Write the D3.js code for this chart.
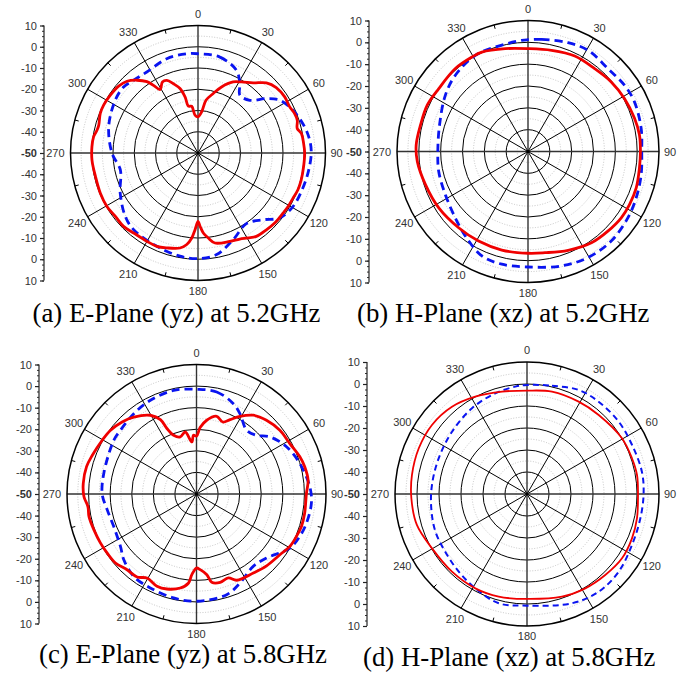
<!DOCTYPE html>
<html><head><meta charset="utf-8">
<script src="https://cdn.jsdelivr.net/npm/d3@7"></script>
<style>body{margin:0;background:#fff}svg{display:block}</style>
</head><body>
<svg id="c" width="686" height="683"></svg>
<script>
// ---------- data (dB vs angle in degrees) ----------
const angleTicks = [0,30,60,90,120,150,180,210,240,270,300,330];
const radialTickValues = [-60,-50,-40,-30,-20,-10,0,10,20,30,40,50,60];
const captions = ["(a) E-Plane (yz) at 5.2GHz","(b) H-Plane (xz) at 5.2GHz","(c) E-Plane (yz) at 5.8GHz","(d) H-Plane (xz) at 5.8GHz"];

const aRedAng = [0,5.1,8.6,14.4,19.6,26.3,31.5,38.2,44.3,50.1,57.1,63.3,67.8,71.7,76.1,79.3,84.8,90,97.3,104.6,110.2,115.4,120.7,125.3,132.4,138.3,145,149.5,154.1,160.2,169.3,173.1,176.2,178.4,180,182.2,184.2,187,190.7,198.2,203.8,210.1,218.8,225.4,232.5,239.6,247.6,257.1,266.2,273.4,278.9,282.8,285.7,292,296.9,303.4,310.1,315.3,320,324.4,326.7,329.2,333.4,336.8,340.5,344.4,347,348.4,352.3,355.5];
const aRedVal = [-33,-30.5,-24.9,-21.1,-17,-12.7,-10.8,-8,-3.9,-2,-1.4,-1.7,-0.9,-0.8,-1.9,-0.5,-0.1,0.2,0.1,0.2,0.1,-0.5,-0.7,-1,-1.1,-1.6,-2.1,-3.6,-5,-5.8,-6.9,-9.7,-12.3,-15.5,-17.8,-13.9,-9.9,-6.6,-4.5,-3,-2,-2,-1.7,-0.8,-1,-0.3,-0.3,-0.5,0,0,-0.3,-1.3,-1.5,-0.4,-0.2,-0.6,-1.2,-2.5,-5.3,-8.7,-11.9,-15.2,-12.6,-12.8,-15.4,-18.5,-22.9,-27.5,-27.8,-32.1];
const aBlueAng = [0,12.9,25,31.1,35.9,44.5,51.5,57.1,65.7,76.2,83.4,90,100.4,110.5,119.4,128.5,135.7,145.6,157.9,169.6,180,189.9,203.8,220,228.9,242.7,257.7,270,286.4,302.6,311.6,318.5,327.7,341.7,353.5];
const aBlueVal = [-3.3,-3.7,-7.1,-11.9,-16.4,-15.2,-8.9,-4.2,-1,1.65,2.9,3.3,2.6,1.9,1.3,-0.9,-6.1,-9.7,-6,-1.4,-0.3,-0.7,-2,-2.9,-4.6,-8.8,-12.6,-9.5,-6.2,-3.8,-3.2,-4.3,-4.9,-3.25,-3];

const bRedAng = [0,13.1,26.1,38.8,50.1,61.2,72.7,81.5,90,98.5,108.6,117.6,125.4,134.9,145.2,157.9,170.5,180,194.9,208.9,222.3,237.7,252.1,264.9,273.4,283.9,294.7,305.2,318.8,329.3,335.1,347.5];
const bRedVal = [-2.9,-2.45,-1.3,-1.3,-0.3,0.4,1.1,1.6,1.5,1.6,2.3,2.45,2.4,1.65,0.9,-1.15,-3,-3.4,-3.3,-3.15,-2.8,-1.65,-0.65,0.9,1.3,0.7,0.8,0,0.5,0.3,0.2,-1.75];
const bBlueAng = [0,6.9,20.2,30.7,43.9,55.5,65,78.4,90,101.6,113.2,123.6,137.1,150.5,163.7,180,193.1,203.8,216.5,227.6,242.4,257.4,270,286.7,304.3,316.4,331.3,342.6,356.8];
const bBlueVal = [1.2,1.7,3.1,3.9,2.75,3.6,3.8,2.9,2.1,2.9,3.9,4.9,6,5.8,4.6,2.9,3,2.3,-1.8,-4.9,-7.3,-8.1,-8.7,-7.7,-4.2,-1.75,0.2,0.15,1];

const cRedAng = [0,3.1,7.9,14.6,20,24.3,29.2,35.8,43.5,52.6,61.6,70.2,75.9,82.9,90,100.1,107.2,113,119.3,126.1,135.7,144.3,155,159.2,165,170.2,172.7,177.2,180,183.3,185.1,189.8,197.3,203.2,210.5,215.6,222.5,229.6,236.5,242.9,250.7,258.1,263.4,268.6,275.4,284,290.4,299.7,306.6,314.1,320.8,329.6,334.1,335.7,338.7,344.1,349.7,354.9,357.1];
const cRedVal = [-23.2,-19.2,-15.5,-12.8,-14.5,-12.2,-8.8,-5,-2.9,-1.4,-0.85,0.9,1.7,2.1,0.9,0.9,0.9,0.3,-0.4,-2.2,-3.5,-4.9,-5.9,-8.4,-7.6,-8.5,-12.3,-14.9,-15.7,-12.6,-8.6,-5.8,-3.9,-3.5,-4.8,-2.7,-2.4,-0.7,-0.4,-0.05,0.35,0.9,0.65,2.15,2.7,2.5,1.5,0.3,-0.4,-2,-4,-7.7,-11.7,-16.7,-20.8,-22.5,-20.8,-25.8,-22.7];
const cBlueAng = [0,11.2,22.2,28.4,38.2,45.6,52.1,62.3,73.5,86.3,94.6,104.9,112.4,120.1,132.4,141.9,153.9,163.3,180,192.4,206.2,217.3,227.9,235.4,248.5,259.9,270,282.5,303,310,322,333.8,347.5];
const cBlueVal = [-1.5,-1.8,-4.8,-7.7,-12.4,-11.1,-6.9,-2.9,-0.1,2.6,3.4,2.7,1.7,0,-6,-7.4,-4.1,-1.3,-0.3,-0.7,-1.5,-2,-4.6,-7.2,-8.8,-8,-6.3,-6,-4.3,-4,-2.8,-1.6,-0.85];

const dRedAng = [0,13.7,29.2,42.2,59.6,71.2,80.2,90,102.5,112.9,124.1,136,148.3,161.2,180,195.4,208.7,224,240.2,254.3,267.9,279.4,292.9,306,319.3,332,346.3];
const dRedVal = [-3,-2.1,-1.9,-1.5,0.05,0.4,0.75,0.45,1.2,1.8,2.15,1.2,0.4,-0.7,-2.3,-1.6,-1.1,-0.9,-0.25,2,2.6,3,3.4,3.4,2.3,0.1,-2.1];
const dBlueAng = [0,13,26.4,37.8,51.7,65,79,90,102.1,115.9,130.3,143.7,157.6,180,194.5,208.7,221.3,234.8,247.7,261.5,275.4,292,309.7,327.3,342.5,353.8];
const dBlueVal = [-0.45,0.5,2.8,3.1,3.1,2.7,3.2,3,2.7,3.05,4.6,5.1,3.7,0.75,1.3,-1.1,-3,-4.5,-5,-6,-6.6,-6.7,-5.7,-3.7,-2,-0.9];

// ---------- layout ----------
const panels = [
  {cx:198, cy:153, R:127.5, ax:44, cap:[32.5,321.5], red:[aRedAng,aRedVal], blue:[aBlueAng,aBlueVal], thin:false},
  {cx:528, cy:151.5, R:131, ax:369, cap:[357,321.5], red:[bRedAng,bRedVal], blue:[bBlueAng,bBlueVal], thin:false},
  {cx:196.5, cy:494, R:129.5, ax:39, cap:[39,663], red:[cRedAng,cRedVal], blue:[cBlueAng,cBlueVal], thin:false},
  {cx:527, cy:494, R:132, ax:367, cap:[363,666], red:[dRedAng,dRedVal], blue:[dBlueAng,dBlueVal], thin:true}
];

const svg = d3.select("#c");
const rad = Math.PI/180;
const sans = "'Liberation Sans', Arial, sans-serif";
const serif = "'Liberation Serif', 'Times New Roman', serif";

panels.forEach((p,i)=>{
  const r = d3.scaleLinear().domain([-50,10]).range([0,p.R]);
  const g = svg.append("g").attr("transform",`translate(${p.cx},${p.cy})`);

  // dotted minor rings (every 5 dB between majors)
  d3.range(-45,10,10).forEach(v=>{
    g.append("circle").attr("r",r(v)).attr("fill","none")
      .attr("stroke","#b8b8b8").attr("stroke-width",0.8).attr("stroke-dasharray","1,1.6");
  });
  // major rings
  [-40,-30,-20,-10,0].forEach(v=>{
    g.append("circle").attr("r",r(v)).attr("fill","none").attr("stroke","#000").attr("stroke-width",1);
  });
  // spokes
  angleTicks.forEach(a=>{
    const main = a%90===0;
    g.append("line").attr("x1",0).attr("y1",0)
      .attr("x2",p.R*Math.sin(a*rad)).attr("y2",-p.R*Math.cos(a*rad))
      .attr("stroke",main?"#333":"#000").attr("stroke-width",main?1.4:1);
  });
  g.append("circle").attr("r",1.6).attr("fill","#000");
  // outer ring
  g.append("circle").attr("r",p.R).attr("fill","none").attr("stroke","#000").attr("stroke-width",1.5);
  // minor ticks on outer ring
  d3.range(15,360,30).forEach(a=>{
    g.append("line")
      .attr("x1",p.R*Math.sin(a*rad)).attr("y1",-p.R*Math.cos(a*rad))
      .attr("x2",(p.R-4)*Math.sin(a*rad)).attr("y2",-(p.R-4)*Math.cos(a*rad))
      .attr("stroke","#000").attr("stroke-width",1);
  });
  // angle labels
  angleTicks.forEach(a=>{
    const side = a===90 ? "start" : (a===270 ? "end" : "middle");
    const lr = p.R + (a===90 ? 5 : (a===270 ? 6 : (a===180 ? 10 : 12)));
    g.append("text").attr("x",lr*Math.sin(a*rad)).attr("y",-lr*Math.cos(a*rad))
      .attr("text-anchor",side).attr("dominant-baseline","central")
      .attr("font-family",sans).attr("font-size",11)
      .attr("fill","#333").text(a);
  });

  // series
  const line = d3.lineRadial().curve(d3.curveCatmullRomClosed.alpha(0.5))
    .angle(d=>d[0]*rad).radius(d=>r(d[1]));
  const blueData = p.blue[0].map((a,k)=>[a,p.blue[1][k]]);
  const redData = p.red[0].map((a,k)=>[a,p.red[1][k]]);
  g.append("path").attr("d",line(blueData)).attr("fill","none")
    .attr("stroke","#0a14f0").attr("stroke-width",p.thin?2:2.8)
    .attr("stroke-dasharray",p.thin?"6,4":"8,5");
  g.append("path").attr("d",line(redData)).attr("fill","none")
    .attr("stroke","#f00000").attr("stroke-width",p.thin?1.8:2.8).attr("stroke-linejoin","round");

  // left radial axis
  const yS = d3.scaleLinear().domain([-60,60]).range([p.cy+p.R, p.cy-p.R]);
  const ag = svg.append("g").attr("transform",`translate(${p.ax},0)`);
  ag.call(d3.axisLeft(yS).tickValues(d3.range(-60,60.1,2.5)).tickSize(2).tickFormat(""))
    .call(s=>s.select(".domain").remove());
  ag.selectAll(".tick line").attr("stroke","#333");
  const maj = svg.append("g").attr("transform",`translate(${p.ax},0)`);
  maj.call(d3.axisLeft(yS).tickValues(radialTickValues).tickSize(4).tickPadding(3)
      .tickFormat(d=> d===0 ? "-50" : String(Math.abs(d)-50)));
  maj.select(".domain").attr("stroke","#222").attr("stroke-width",1.2).attr("d",`M0,${p.cy+p.R}V${p.cy-p.R}`);
  maj.selectAll(".tick line").attr("stroke","#222").attr("stroke-width",1.2);
  maj.selectAll(".tick text").attr("font-family",sans).attr("font-size",11).attr("fill","#333")
    .attr("font-weight",d=>d===0?"bold":"normal");

  // caption
  svg.append("text").attr("x",p.cap[0]).attr("y",p.cap[1])
    .attr("font-family",serif).attr("font-size",26.8)
    .attr("fill","#000").text(captions[i]);
});
</script>
</body></html>
